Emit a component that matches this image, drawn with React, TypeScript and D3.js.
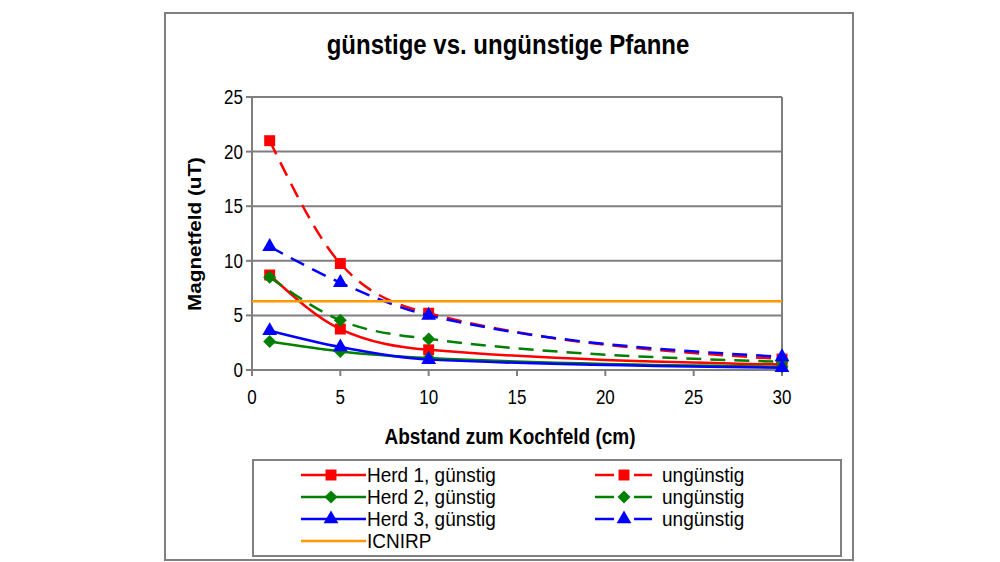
import React from 'react'
import * as d3 from 'd3'

// distances (cm) and measured field (uT)
const distances = [1, 5, 10, 30]
const herd1Guenstig = [8.7, 3.75, 1.85, 0.5]
const herd1Unguenstig = [21.0, 9.75, 5.2, 1.0]
const herd2Guenstig = [2.6, 1.7, 1.1, 0.3]
const herd2Unguenstig = [8.5, 4.55, 2.85, 0.75]
const herd3Guenstig = [3.6, 2.1, 0.95, 0.2]
const herd3Unguenstig = [11.3, 8.0, 5.0, 1.2]
const icnirpLimit = 6.3

const xTicks = [0, 5, 10, 15, 20, 25, 30]
const yTicks = [0, 5, 10, 15, 20, 25]

type Marker = 'square' | 'diamond' | 'triangle'
interface Series {
  label: string
  values: number[]
  color: string
  dashed: boolean
  marker: Marker
}

const series: Series[] = [
  { label: 'Herd 1, günstig', values: herd1Guenstig, color: '#ff0000', dashed: false, marker: 'square' },
  { label: 'ungünstig', values: herd1Unguenstig, color: '#ff0000', dashed: true, marker: 'square' },
  { label: 'Herd 2, günstig', values: herd2Guenstig, color: '#008000', dashed: false, marker: 'diamond' },
  { label: 'ungünstig', values: herd2Unguenstig, color: '#008000', dashed: true, marker: 'diamond' },
  { label: 'Herd 3, günstig', values: herd3Guenstig, color: '#0000ff', dashed: false, marker: 'triangle' },
  { label: 'ungünstig', values: herd3Unguenstig, color: '#0000ff', dashed: true, marker: 'triangle' }
]

const FONT = '"Liberation Sans", Arial, sans-serif'
const SY = 1.15
const GRID = '#7f7f7f'
const ORANGE = '#ff9900'
const DASH = '15 9'

function markerPath(m: Marker): string {
  if (m === 'square') return d3.symbol(d3.symbolSquare, 120)() as string
  if (m === 'diamond') return 'M0,-6.5L6.5,0L0,6.5L-6.5,0Z'
  return d3.symbol(d3.symbolTriangle, 95)() as string
}

function Label({ x, y, size, bold, anchor, rotate, sy, children }: {
  x: number; y: number; size: number; bold?: boolean; anchor?: string; rotate?: boolean; sy?: number; children: React.ReactNode
}) {
  return (
    <g transform={`translate(${x},${y}) scale(1,${sy ?? SY})${rotate ? ' rotate(-90)' : ''}`}>
      <text
        fontFamily={FONT}
        fontSize={size}
        fontWeight={bold ? 'bold' : 'normal'}
        textAnchor={anchor || 'start'}
        dominantBaseline="central"
        fill="#000"
      >
        {children}
      </text>
    </g>
  )
}

export default function App() {
  const width = 1000
  const height = 562
  const plot = { left: 252, right: 782, top: 97, bottom: 370 }

  const x = d3.scaleLinear().domain([0, 30]).range([plot.left, plot.right])
  const y = d3.scaleLinear().domain([0, 25]).range([plot.bottom, plot.top])

  const line = d3.line<[number, number]>()
    .x(d => x(d[0]))
    .y(d => y(d[1]))
    .curve(d3.curveMonotoneX)

  const legendRows = [475, 497, 519]
  const leftCol = { x1: 301, x2: 366, mx: 331, tx: 367 }
  const rightCol = { x1: 595, x2: 652, mx: 624, tx: 662 }

  return (
    <svg width={width} height={height} style={{ position: 'absolute', left: 0, top: 0 }}>
      <rect x={0} y={0} width={width} height={height} fill="#fff" />
      {/* chart frame */}
      <rect x={165} y={13} width={688} height={547} fill="#fff" stroke="#808080" strokeWidth={2} />

      <Label x={508} y={44} size={24} bold anchor="middle">günstige vs. ungünstige Pfanne</Label>

      {/* gridlines */}
      {yTicks.filter(t => t > 0).map(t => (
        <line key={t} x1={plot.left} x2={plot.right} y1={y(t)} y2={y(t)} stroke={GRID} strokeWidth={2} />
      ))}
      <line x1={plot.right} x2={plot.right} y1={plot.top} y2={plot.bottom} stroke={GRID} strokeWidth={2} />

      {/* axes */}
      <line x1={plot.left} x2={plot.left} y1={plot.top} y2={plot.bottom} stroke={GRID} strokeWidth={2} />
      <line x1={plot.left} x2={plot.right} y1={plot.bottom} y2={plot.bottom} stroke={GRID} strokeWidth={2} />
      {yTicks.map(t => (
        <g key={t}>
          <line x1={plot.left - 6} x2={plot.left} y1={y(t)} y2={y(t)} stroke={GRID} strokeWidth={2} />
          <Label x={243} y={y(t)} size={17} anchor="end">{t}</Label>
        </g>
      ))}
      {xTicks.map(t => (
        <g key={t}>
          <line x1={x(t)} x2={x(t)} y1={plot.bottom} y2={plot.bottom + 6} stroke={GRID} strokeWidth={2} />
          <Label x={x(t)} y={397} size={17} anchor="middle">{t}</Label>
        </g>
      ))}

      <Label x={510} y={436} size={19} bold anchor="middle">Abstand zum Kochfeld (cm)</Label>
      <Label x={195} y={234} size={18} bold anchor="middle" rotate>Magnetfeld (uT)</Label>

      {/* series */}
      {series.map((s, i) => {
        const pts = distances.map((d, j) => [d, s.values[j]] as [number, number])
        return (
          <g key={i}>
            <path d={line(pts) || ''} fill="none" stroke={s.color} strokeWidth={2.5}
              strokeDasharray={s.dashed ? DASH : undefined} />
            {pts.map((p, j) => (
              <path key={j} d={markerPath(s.marker)} transform={`translate(${x(p[0])},${y(p[1])})`} fill={s.color} />
            ))}
          </g>
        )
      })}
      <line x1={plot.left} x2={plot.right} y1={y(icnirpLimit)} y2={y(icnirpLimit)} stroke={ORANGE} strokeWidth={2.5} />

      {/* legend */}
      <rect x={253} y={460} width={588} height={96} fill="#fff" stroke="#808080" strokeWidth={2} />
      {series.map((s, i) => {
        const col = i % 2 === 0 ? leftCol : rightCol
        const ry = legendRows[Math.floor(i / 2)]
        return (
          <g key={i}>
            {s.dashed ? (
              <>
                <line x1={col.x1} x2={col.mx - 10} y1={ry} y2={ry} stroke={s.color} strokeWidth={2.5} />
                <line x1={col.mx + 10} x2={col.x2} y1={ry} y2={ry} stroke={s.color} strokeWidth={2.5} />
              </>
            ) : (
              <line x1={col.x1} x2={col.x2} y1={ry} y2={ry} stroke={s.color} strokeWidth={2.5} />
            )}
            <path d={markerPath(s.marker)} transform={`translate(${col.mx},${ry})`} fill={s.color} />
            <Label x={col.tx} y={ry} size={19} sy={1.1}>{s.label}</Label>
          </g>
        )
      })}
      <line x1={leftCol.x1} x2={leftCol.x2} y1={541} y2={541} stroke={ORANGE} strokeWidth={2.5} />
      <Label x={leftCol.tx} y={541} size={19} sy={1.1}>ICNIRP</Label>
    </svg>
  )
}
